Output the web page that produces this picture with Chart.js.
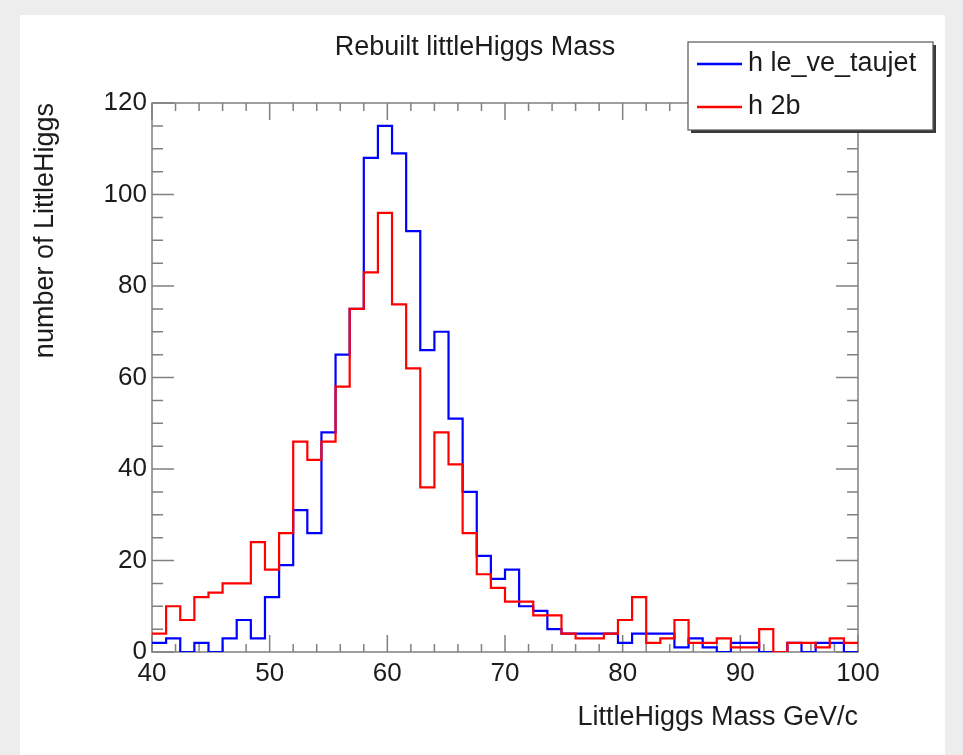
<!DOCTYPE html>
<html><head><meta charset="utf-8">
<script src="https://cdn.jsdelivr.net/npm/chart.js@4.4.1/dist/chart.umd.min.js"></script>
<style>html,body{margin:0;padding:0;background:#ededed;overflow:hidden}
#wrap{position:absolute;left:0;top:0;width:963px;height:755px}</style>
</head><body><div id="wrap"><canvas id="c" width="963" height="755"></canvas></div>
<script>
// Bin edges (50 bins of 1.2 GeV/c from 40 to 100)
const binEdges = [40,41.2,42.4,43.6,44.8,46,47.2,48.4,49.6,50.8,52,53.2,54.4,55.6,56.8,58,59.2,60.4,61.6,62.8,64,65.2,66.4,67.6,68.8,70,71.2,72.4,73.6,74.8,76,77.2,78.4,79.6,80.8,82,83.2,84.4,85.6,86.8,88,89.2,90.4,91.6,92.8,94,95.2,96.4,97.6,98.8,100];
const leVeTaujet = [2,3,0,2,0,3,7,3,12,19,31,26,48,65,75,108,115,109,92,66,70,51,35,21,16,18,10,9,5,4,4,4,4,2,4,4,4,1,3,1,0,2,2,0,0,2,0,2,2,0];
const twoB = [4,10,7,12,13,15,15,24,18,26,46,42,46,58,75,83,96,76,62,36,48,41,26,17,14,11,11,8,8,4,3,3,4,7,12,2,3,7,2,2,3,1,1,5,0,2,2,1,3,2];
const seriesNames = ['h le_ve_taujet','h 2b'];
const xRange = [40,100];
const yRange = [0,120];
const chartTitle = 'Rebuilt littleHiggs Mass';
const xTitle = 'LittleHiggs Mass GeV/c';
const yTitle = 'number of LittleHiggs';

const FONT = '"Liberation Sans", Arial, Helvetica, sans-serif';
const TXT = '#1c1c1c';
Chart.defaults.font.family = FONT;

// value of bin i holds from binEdges[i] to binEdges[i+1] (stepped 'before': horizontal at previous value)
function steps(vals){
  return binEdges.map((e, i) => ({x: e, y: vals[Math.min(i, vals.length - 1)]}));
}

const bgPlugin = {
  id:'bg',
  beforeDraw(chart){
    const ctx = chart.ctx;
    ctx.save();
    ctx.fillStyle = '#ededed';
    ctx.fillRect(0,0,chart.width,chart.height);
    ctx.fillStyle = '#ffffff';
    ctx.fillRect(20,15,925,740);
    ctx.fillStyle = TXT;
    ctx.font = '27px ' + FONT;
    ctx.textAlign = 'center';
    ctx.textBaseline = 'middle';
    ctx.fillText(chartTitle, 475, 48);
    ctx.restore();
  },
  beforeDatasetsDraw(chart){
    const ctx = chart.ctx;
    const xs = chart.scales.x, ys = chart.scales.y;
    const {left,right,top,bottom} = chart.chartArea;
    ctx.save();
    ctx.strokeStyle = '#808080';
    ctx.lineWidth = 1.5;
    ctx.strokeRect(left, top, right-left, bottom-top);
    ctx.beginPath();
    for (let v = xRange[0]; v <= xRange[1]; v += 2){
      const px = xs.getPixelForValue(v);
      const L = (v % 10 === 0) ? 17 : 8;
      ctx.moveTo(px, bottom); ctx.lineTo(px, bottom - L);
      ctx.moveTo(px, top); ctx.lineTo(px, top + L);
    }
    for (let v = yRange[0]; v <= yRange[1]; v += 5){
      const py = ys.getPixelForValue(v);
      const L = (v % 20 === 0) ? 22 : 11;
      ctx.moveTo(left, py); ctx.lineTo(left + L, py);
      ctx.moveTo(right, py); ctx.lineTo(right - L, py);
    }
    ctx.stroke();
    ctx.restore();
  },
  afterDraw(chart){
    const ctx = chart.ctx;
    ctx.save();
    const bx = 688, by = 42, bw = 245, bh = 88;
    ctx.fillStyle = '#3a3a3a';
    ctx.fillRect(bx+3, by+3, bw, bh);
    ctx.fillStyle = '#ffffff';
    ctx.fillRect(bx, by, bw, bh);
    ctx.strokeStyle = '#555';
    ctx.lineWidth = 1.2;
    ctx.strokeRect(bx, by, bw, bh);
    const rows = [64, 107];
    chart.data.datasets.forEach((ds, i) => {
      const y = rows[i];
      ctx.strokeStyle = ds.borderColor;
      ctx.lineWidth = 2.5;
      ctx.beginPath(); ctx.moveTo(697, y); ctx.lineTo(742, y); ctx.stroke();
      ctx.fillStyle = TXT;
      ctx.font = '27px ' + FONT;
      ctx.textAlign = 'left';
      ctx.textBaseline = 'middle';
      ctx.fillText(ds.label, 748, y);
    });
    ctx.restore();
  }
};

new Chart(document.getElementById('c'), {
  type: 'line',
  data: {
    datasets: [
      {label: seriesNames[0], data: steps(leVeTaujet), borderColor: '#0000ff', borderWidth: 2.2, stepped: 'before', pointRadius: 0, fill: false, order: 1},
      {label: seriesNames[1], data: steps(twoB), borderColor: '#ff0000', borderWidth: 2.2, stepped: 'before', pointRadius: 0, fill: false, order: 0}
    ]
  },
  options: {
    responsive: false,
    animation: false,
    devicePixelRatio: 1,
    layout: {padding: {top: 103, right: 105, left: 0, bottom: 0}},
    plugins: {legend: {display: false}, tooltip: {enabled: false}, title: {display: false}},
    scales: {
      x: {
        type: 'linear', min: xRange[0], max: xRange[1],
        grid: {display: false, drawTicks: false}, border: {display: false},
        ticks: {stepSize: 10, color: TXT, font: {size: 26}, padding: 6, maxRotation: 0},
        title: {display: true, text: xTitle, align: 'end', color: TXT, font: {size: 27}, padding: {top: 0, bottom: 21}},
        afterFit(s){ s.height = 103; }
      },
      y: {
        type: 'linear', min: yRange[0], max: yRange[1],
        grid: {display: false, drawTicks: false}, border: {display: false},
        ticks: {stepSize: 20, color: TXT, font: {size: 26}, padding: 5},
        title: {display: true, text: yTitle, align: 'end', color: TXT, font: {size: 27}, padding: {top: 29, bottom: 0}},
        afterFit(s){ s.width = 152; }
      }
    }
  },
  plugins: [bgPlugin]
});
</script></body></html>
